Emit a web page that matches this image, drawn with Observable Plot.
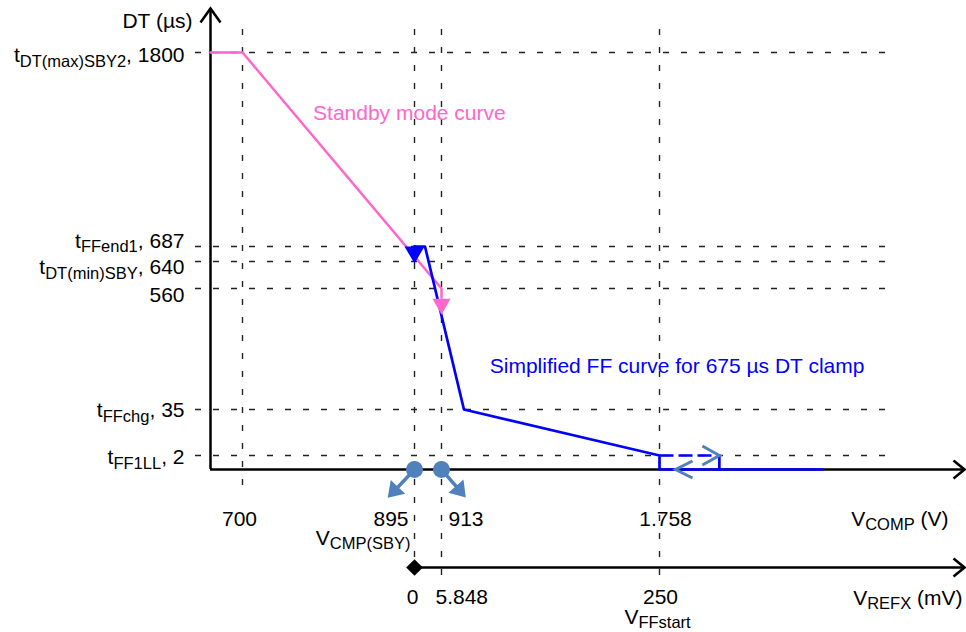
<!DOCTYPE html>
<html><head><meta charset="utf-8">
<script src="https://cdn.jsdelivr.net/npm/d3@7"></script>
<script src="https://cdn.jsdelivr.net/npm/@observablehq/plot@0.6"></script>
<style>html,body{margin:0;padding:0;background:#fff;} svg{display:block}</style>
</head><body><div id="chart"></div>
<script>
// ---------- data ----------
const vcompTicks = [0.7, 0.895, 0.913, 1.758];            // V_COMP (V)
const vcompTickLabels = ["700", "895", "913", "1.758"];
const refxTickPos = [0.895, 0.913, 1.758];                 // where V_REFX ticks sit on V_COMP
const refxTickLabels = ["0", "5.848", "250"];              // V_REFX (mV)
const dtTicks = [1800, 687, 640, 560, 35, 2];              // DT (µs)
const dtTickLabels = ["t_{DT(max)SBY2}, 1800", "t_{FFend1}, 687", "t_{DT(min)SBY}, 640", "560", "t_{FFchg}, 35", "t_{FF1LL}, 2"];
const standbyVcomp = [0.66, 0.7, 0.913, 0.913];
const standbyDT = [1800, 1800, 560, 520];
const ffVcomp = [0.895, 0.902, 1.0, 1.758, 1.758, 2.39];
const ffDT = [687, 687, 35, 2, 0, 0];
const hystForwardVcomp = [1.758, 1.99];
const hystForwardDT = [2, 2];
const hystDropVcomp = [1.99, 1.99];
const hystDropDT = [2, 0];
const hystReturnMarkVcomp = [1.82];
const circleVcomp = [0.895, 0.913];

// ---------- helpers ----------
const zip = (xs, ys) => xs.map((x, i) => ({x, y: ys[i]}));
const standby = zip(standbyVcomp, standbyDT);
const ff = zip(ffVcomp, ffDT);
const hystFwd = zip(hystForwardVcomp, hystForwardDT);
const hystDrop = zip(hystDropVcomp, hystDropDT);

const xMin = 0.66, xMax = 2.94, yMax = 2050;
const PINK = "#ff66cc", BLUE = "#0000ff", STEEL = "#4f81bd";

function rot([x, y], deg) { const a = deg * Math.PI / 180, c = Math.cos(a), s = Math.sin(a); return [x * c - y * s, x * s + y * c]; }
function polySymbol(points, close) {
  return {draw(ctx) { points.forEach((p, i) => i ? ctx.lineTo(p[0], p[1]) : ctx.moveTo(p[0], p[1])); if (close) ctx.closePath(); }};
}
function chevron(deg, depth, half) { return polySymbol([[-half, depth], [0, 0], [half, depth]].map(p => rot(p, deg)), false); }
function triangleDown(h, half) { return polySymbol([[-half, 0], [half, 0], [0, h]], true); }
function blockArrow(deg, len, head, half, shaft) {
  const b = len - head;
  return polySymbol([[-shaft/2, 0], [-shaft/2, -b], [-half, -b], [0, -len], [half, -b], [shaft/2, -b], [shaft/2, 0]].map(p => rot(p, deg)), true);
}

const dash = {stroke: "#222", strokeWidth: 1.4, strokeDasharray: "6,12"};
const axisStyle = {stroke: "black", strokeWidth: 2.5};

const yLab = (i, lineAnchor, dy) => Plot.text([i], {x: xMin, y: j => dtTicks[j], text: j => dtTickLabels[j], textAnchor: "end", lineAnchor, dx: -26, dy});
const xLab = (i, textAnchor, dx) => Plot.text([i], {x: j => vcompTicks[j], y: 0, text: j => vcompTickLabels[j], textAnchor, lineAnchor: "bottom", dx, dy: 56});
const rLab = (i, textAnchor, dx) => Plot.text([i], {x: j => refxTickPos[j], y: 0, text: j => refxTickLabels[j], textAnchor, lineAnchor: "bottom", dx, dy: 134});

const svg = Plot.plot({
  width: 966, height: 632,
  marginTop: 0, marginRight: 0, marginBottom: 0, marginLeft: 0,
  style: {fontFamily: "'Liberation Sans', Arial, Helvetica, sans-serif", fontSize: "21px", background: "white", color: "black"},
  x: {type: "linear", domain: [xMin, ...vcompTicks, xMax], range: [210, 242, 414, 441, 659, 964], axis: null},
  y: {type: "linear", domain: [0, ...dtTicks.slice().reverse(), yMax], range: [469, 455, 409, 288, 261, 246, 52, 8], axis: null},
  marks: [
    // dashed guide lines
    Plot.ruleY(dtTicks, {y: d => d, x1: xMin, x2: xMax, insetLeft: -15, insetRight: 73, ...dash}),
    Plot.ruleX([vcompTicks[0]], {x: d => d, y1: yMax, y2: 0, insetTop: 21, insetBottom: -28, ...dash}),
    Plot.ruleX([vcompTicks[1]], {x: d => d, y1: yMax, y2: 0, insetTop: 21, insetBottom: -98, ...dash}),
    Plot.ruleX(vcompTicks.slice(2), {x: d => d, y1: yMax, y2: 0, insetTop: 21, insetBottom: -109, ...dash}),
    // axes
    Plot.ruleY([0], {x1: xMin, x2: xMax, ...axisStyle}),
    Plot.ruleX([xMin], {y1: 0, y2: yMax, ...axisStyle}),
    Plot.ruleY([0], {x1: refxTickPos[0], x2: xMax, dy: 98, ...axisStyle}),
    Plot.dot([0], {x: xMax, y: 0, r: 5, symbol: chevron(90, 11, 9), fill: "none", ...axisStyle}),
    Plot.dot([0], {x: xMax, y: 0, dy: 98, r: 5, symbol: chevron(90, 11, 9), fill: "none", ...axisStyle}),
    Plot.dot([0], {x: xMin, y: yMax, r: 5, symbol: chevron(0, 14, 10), fill: "none", ...axisStyle}),
    Plot.dot([0], {x: refxTickPos[0], y: 0, dy: 98, r: 7.5, symbol: "diamond2", fill: "black", stroke: "none"}),
    // curves
    Plot.line(standby, {x: "x", y: "y", stroke: PINK, strokeWidth: 2.5}),
    Plot.line(ff, {x: "x", y: "y", stroke: BLUE, strokeWidth: 2.7}),
    Plot.line(hystFwd, {x: "x", y: "y", stroke: BLUE, strokeWidth: 2.7, strokeDasharray: "14,5", strokeLinecap: "butt"}),
    Plot.line(hystDrop, {x: "x", y: "y", stroke: BLUE, strokeWidth: 2.7}),
    // markers
    Plot.dot([ff[0]], {x: "x", y: "y", r: 5, symbol: triangleDown(17, 10), fill: BLUE, stroke: "none"}),
    Plot.dot([standby[standby.length - 1]], {x: "x", y: "y", dy: 1, r: 5, symbol: triangleDown(16, 9), fill: PINK, stroke: "none"}),
    Plot.dot([hystFwd[1]], {x: "x", y: "y", r: 5, symbol: chevron(90, 17, 9.5), fill: "none", stroke: STEEL, strokeWidth: 3}),
    Plot.dot(hystReturnMarkVcomp, {x: d => d, y: 0, r: 5, symbol: chevron(270, 17, 8.5), fill: "none", stroke: STEEL, strokeWidth: 3}),
    Plot.dot([circleVcomp[0]], {x: d => d, y: 0, r: 5, symbol: blockArrow(223.4, 39, 15, 10, 3.5), fill: STEEL, stroke: "none"}),
    Plot.dot([circleVcomp[1]], {x: d => d, y: 0, r: 5, symbol: blockArrow(139, 37, 15, 10, 3.5), fill: STEEL, stroke: "none"}),
    Plot.dot(circleVcomp, {x: d => d, y: 0, r: 8.5, fill: STEEL, stroke: "none"}),
    // y labels
    yLab(0, "middle", 3), yLab(1, "bottom", 1), yLab(2, "top", -2), yLab(3, "top", -1), yLab(4, "middle", 1), yLab(5, "middle", 2),
    Plot.text(["DT (µs)"], {x: xMin, y: yMax, textAnchor: "end", lineAnchor: "bottom", dx: -18, dy: 19}),
    // V_COMP axis labels
    xLab(0, "middle", -3), xLab(1, "end", -6), xLab(2, "start", 7), xLab(3, "middle", 6),
    Plot.text(["V_{CMP(SBY)}"], {x: vcompTicks[1], y: 0, textAnchor: "end", lineAnchor: "bottom", dx: -4, dy: 75}),
    Plot.text(["V_{COMP} (V)"], {x: xMax, y: 0, textAnchor: "end", lineAnchor: "bottom", dx: -16, dy: 56}),
    // V_REFX axis labels
    rLab(0, "middle", -2), rLab(1, "start", -6), rLab(2, "middle", 1),
    Plot.text(["V_{FFstart}"], {x: refxTickPos[2], y: 0, textAnchor: "middle", lineAnchor: "bottom", dx: -2, dy: 154}),
    Plot.text(["V_{REFX} (mV)"], {x: xMax, y: 0, textAnchor: "end", lineAnchor: "bottom", dx: -2, dy: 135}),
    // annotations
    Plot.text(["Standby mode curve"], {x: 0.78, y: 1450, textAnchor: "start", lineAnchor: "middle", fill: PINK}),
    Plot.text(["Simplified FF curve for 675 µs DT clamp"], {x: 1.1, y: 222, textAnchor: "start", lineAnchor: "middle", fill: BLUE})
  ]
});

// subscripts: turn "_{...}" into real subscript tspans
const NS = "http://www.w3.org/2000/svg";
svg.querySelectorAll("text").forEach(t => {
  const s = t.textContent;
  if (!s.includes("_{")) return;
  t.textContent = "";
  const re = /_\{([^}]*)\}/g;
  let last = 0, m, shifted = false;
  const add = (str, sub) => {
    const ts = document.createElementNS(NS, "tspan");
    ts.textContent = str;
    if (sub) { ts.setAttribute("font-size", "16.5"); ts.setAttribute("dy", "4.5"); shifted = true; }
    else if (shifted) { ts.setAttribute("dy", "-4.5"); shifted = false; }
    t.appendChild(ts);
  };
  while ((m = re.exec(s))) { if (m.index > last) add(s.slice(last, m.index), false); add(m[1], true); last = re.lastIndex; }
  if (last < s.length) add(s.slice(last), false);
});
document.getElementById("chart").appendChild(svg);
</script>
</body></html>
